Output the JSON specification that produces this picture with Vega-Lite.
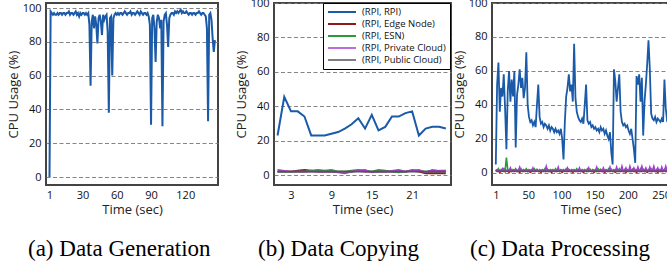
{
  "$schema": "https://vega.github.io/schema/vega-lite/v6.json",
  "padding": {"left": 6, "top": -4, "right": -23, "bottom": 0},
  "background": "white",
  "config": {
    "view": {"stroke": "#444444", "strokeWidth": 2},
    "font": "Open Sans",
    "axis": {"grid": true, "gridDash": [4, 2.5], "gridColor": "#777777", "gridWidth": 0.9, "ticks": false, "domain": false, "labelFont": "Open Sans", "labelFontSize": 11, "labelColor": "#111111", "titleFont": "Open Sans", "titleFontSize": 13, "titleFontWeight": "normal", "titleColor": "#222222", "labelOverlap": false, "labelFlush": false, "labelPadding": 4},
    "axisX": {"grid": false, "titlePadding": 3},
    "axisY": {"titlePadding": 2, "labelPadding": 5}
  },
  "datasets": {
    "gen": [
      {"t":1,"v":0},{"t":2,"v":98},{"t":3,"v":97},{"t":4,"v":96},{"t":5,"v":97},{"t":6,"v":96},{"t":7,"v":96},{"t":8,"v":97},{"t":9,"v":96},{"t":10,"v":97},
      {"t":11,"v":97},{"t":12,"v":96},{"t":13,"v":97},{"t":14,"v":97},{"t":15,"v":96},{"t":16,"v":97},{"t":17,"v":97},{"t":18,"v":98},{"t":19,"v":96},{"t":20,"v":97},
      {"t":21,"v":97},{"t":22,"v":96},{"t":23,"v":97},{"t":24,"v":98},{"t":25,"v":96},{"t":26,"v":97},{"t":27,"v":95},{"t":28,"v":97},{"t":29,"v":96},{"t":30,"v":97},
      {"t":31,"v":97},{"t":32,"v":96},{"t":33,"v":97},{"t":34,"v":96},{"t":35,"v":97},{"t":36,"v":90},{"t":37,"v":54},{"t":38,"v":92},{"t":39,"v":96},{"t":40,"v":88},
      {"t":41,"v":95},{"t":42,"v":90},{"t":43,"v":79},{"t":44,"v":94},{"t":45,"v":96},{"t":46,"v":92},{"t":47,"v":84},{"t":48,"v":96},{"t":49,"v":93},{"t":50,"v":95},
      {"t":51,"v":96},{"t":52,"v":86},{"t":53,"v":38},{"t":54,"v":94},{"t":55,"v":95},{"t":56,"v":60},{"t":57,"v":94},{"t":58,"v":96},{"t":59,"v":97},{"t":60,"v":96},
      {"t":61,"v":97},{"t":62,"v":96},{"t":63,"v":97},{"t":64,"v":97},{"t":65,"v":96},{"t":66,"v":97},{"t":67,"v":98},{"t":68,"v":97},{"t":69,"v":96},{"t":70,"v":97},
      {"t":71,"v":97},{"t":72,"v":98},{"t":73,"v":96},{"t":74,"v":97},{"t":75,"v":97},{"t":76,"v":96},{"t":77,"v":97},{"t":78,"v":98},{"t":79,"v":97},{"t":80,"v":96},
      {"t":81,"v":98},{"t":82,"v":97},{"t":83,"v":96},{"t":84,"v":97},{"t":85,"v":97},{"t":86,"v":96},{"t":87,"v":97},{"t":88,"v":95},{"t":89,"v":90},{"t":90,"v":31},
      {"t":91,"v":94},{"t":92,"v":96},{"t":93,"v":88},{"t":94,"v":68},{"t":95,"v":92},{"t":96,"v":96},{"t":97,"v":94},{"t":98,"v":88},{"t":99,"v":93},{"t":100,"v":30},
      {"t":101,"v":92},{"t":102,"v":96},{"t":103,"v":97},{"t":104,"v":90},{"t":105,"v":77},{"t":106,"v":94},{"t":107,"v":96},{"t":108,"v":97},{"t":109,"v":97},{"t":110,"v":96},
      {"t":111,"v":98},{"t":112,"v":97},{"t":113,"v":98},{"t":114,"v":97},{"t":115,"v":98},{"t":116,"v":99},{"t":117,"v":97},{"t":118,"v":98},{"t":119,"v":97},{"t":120,"v":97},
      {"t":121,"v":98},{"t":122,"v":97},{"t":123,"v":96},{"t":124,"v":97},{"t":125,"v":97},{"t":126,"v":96},{"t":127,"v":97},{"t":128,"v":97},{"t":129,"v":96},{"t":130,"v":97},
      {"t":131,"v":97},{"t":132,"v":98},{"t":133,"v":97},{"t":134,"v":96},{"t":135,"v":97},{"t":136,"v":97},{"t":137,"v":96},{"t":138,"v":95},{"t":139,"v":88},{"t":140,"v":33},
      {"t":141,"v":96},{"t":142,"v":97},{"t":143,"v":93},{"t":144,"v":82},{"t":145,"v":74},{"t":146,"v":81}
    ],
    "copy": [
      {"t":1,"rpi":23,"edge":2,"esn":2,"priv":3,"pub":2},
      {"t":2,"rpi":45.5,"edge":2,"esn":2,"priv":2.5,"pub":2},
      {"t":3,"rpi":37,"edge":2,"esn":2,"priv":2,"pub":2},
      {"t":4,"rpi":37,"edge":2.5,"esn":2,"priv":2,"pub":2},
      {"t":5,"rpi":34,"edge":3,"esn":2,"priv":2,"pub":2},
      {"t":6,"rpi":23,"edge":2.5,"esn":2.5,"priv":2,"pub":2},
      {"t":7,"rpi":23,"edge":2,"esn":3,"priv":2,"pub":2},
      {"t":8,"rpi":23,"edge":2,"esn":2.5,"priv":2,"pub":2},
      {"t":9,"rpi":24,"edge":2,"esn":3,"priv":2,"pub":2},
      {"t":10,"rpi":25,"edge":2,"esn":2,"priv":1.5,"pub":2},
      {"t":11,"rpi":27,"edge":2,"esn":2,"priv":1,"pub":2},
      {"t":12,"rpi":29.5,"edge":2,"esn":2.5,"priv":2,"pub":2},
      {"t":13,"rpi":33,"edge":2.5,"esn":3,"priv":2.5,"pub":2},
      {"t":14,"rpi":27,"edge":2,"esn":2.5,"priv":3,"pub":2},
      {"t":15,"rpi":35,"edge":2,"esn":2,"priv":1.5,"pub":2},
      {"t":16,"rpi":26,"edge":2,"esn":3,"priv":2,"pub":2},
      {"t":17,"rpi":28,"edge":2,"esn":2.5,"priv":2,"pub":2},
      {"t":18,"rpi":34,"edge":2,"esn":2,"priv":2.5,"pub":2},
      {"t":19,"rpi":34,"edge":2,"esn":1.5,"priv":3,"pub":2},
      {"t":20,"rpi":36,"edge":2,"esn":2,"priv":2,"pub":2},
      {"t":21,"rpi":37,"edge":2.5,"esn":3,"priv":2.5,"pub":2},
      {"t":22,"rpi":23,"edge":2,"esn":2.5,"priv":3,"pub":2},
      {"t":23,"rpi":27,"edge":1,"esn":2,"priv":1.5,"pub":2},
      {"t":24,"rpi":28,"edge":1,"esn":2.5,"priv":3,"pub":2},
      {"t":25,"rpi":28,"edge":1,"esn":2,"priv":2.5,"pub":2},
      {"t":26,"rpi":27,"edge":1,"esn":2.5,"priv":2.5,"pub":2}
    ],
    "proc": [
      {"t":1,"rpi":5,"edge":1,"esn":2,"priv":1,"pub":1},
      {"t":3,"rpi":52,"edge":1.5,"esn":1,"priv":2,"pub":1},
      {"t":5,"rpi":65,"edge":1,"esn":2.5,"priv":1,"pub":1},
      {"t":7,"rpi":36,"edge":0.5,"esn":1,"priv":1.5,"pub":1},
      {"t":9,"rpi":50,"edge":1,"esn":2,"priv":1,"pub":1},
      {"t":11,"rpi":45,"edge":2,"esn":1.5,"priv":2.5,"pub":1},
      {"t":13,"rpi":58,"edge":1,"esn":2.5,"priv":1,"pub":1},
      {"t":15,"rpi":38,"edge":1,"esn":1,"priv":1.5,"pub":1},
      {"t":17,"rpi":14,"edge":1.5,"esn":9,"priv":1,"pub":1},
      {"t":19,"rpi":48,"edge":1,"esn":2,"priv":2,"pub":1},
      {"t":21,"rpi":60,"edge":0.5,"esn":1.5,"priv":1,"pub":1},
      {"t":23,"rpi":42,"edge":1,"esn":2.5,"priv":3,"pub":1},
      {"t":25,"rpi":55,"edge":1.5,"esn":1,"priv":1,"pub":1},
      {"t":27,"rpi":45,"edge":1,"esn":2,"priv":1.5,"pub":1},
      {"t":29,"rpi":60,"edge":1,"esn":1.5,"priv":1,"pub":1},
      {"t":31,"rpi":15,"edge":2,"esn":2.5,"priv":2,"pub":1},
      {"t":33,"rpi":46,"edge":1,"esn":1,"priv":1,"pub":1},
      {"t":35,"rpi":52,"edge":1,"esn":2,"priv":1.5,"pub":1},
      {"t":37,"rpi":61,"edge":0.5,"esn":1.5,"priv":3.5,"pub":1},
      {"t":39,"rpi":50,"edge":1,"esn":2.5,"priv":1,"pub":1},
      {"t":41,"rpi":56,"edge":1.5,"esn":1,"priv":1,"pub":1},
      {"t":43,"rpi":44,"edge":1,"esn":2,"priv":1.5,"pub":1},
      {"t":45,"rpi":50,"edge":1,"esn":1.5,"priv":1,"pub":1},
      {"t":47,"rpi":71,"edge":2,"esn":2.5,"priv":1,"pub":1},
      {"t":49,"rpi":40,"edge":1,"esn":1,"priv":1.5,"pub":1},
      {"t":51,"rpi":33,"edge":1,"esn":2,"priv":1,"pub":1},
      {"t":53,"rpi":30,"edge":0.5,"esn":1.5,"priv":1.5,"pub":1},
      {"t":55,"rpi":31,"edge":1,"esn":2,"priv":1,"pub":1},
      {"t":57,"rpi":28,"edge":1.5,"esn":1,"priv":3,"pub":1},
      {"t":59,"rpi":30,"edge":1,"esn":2.5,"priv":1,"pub":1},
      {"t":61,"rpi":27,"edge":1,"esn":1.5,"priv":1,"pub":1},
      {"t":63,"rpi":40,"edge":2,"esn":2,"priv":1.5,"pub":1},
      {"t":65,"rpi":52,"edge":1,"esn":1,"priv":1,"pub":1},
      {"t":67,"rpi":33,"edge":1,"esn":2,"priv":1.5,"pub":1},
      {"t":69,"rpi":29,"edge":0.5,"esn":1.5,"priv":1,"pub":1},
      {"t":71,"rpi":30,"edge":1,"esn":2,"priv":1,"pub":1},
      {"t":73,"rpi":27,"edge":1.5,"esn":1,"priv":1.5,"pub":1},
      {"t":75,"rpi":29,"edge":1,"esn":2.5,"priv":1,"pub":1},
      {"t":77,"rpi":28,"edge":1,"esn":1.5,"priv":4,"pub":1},
      {"t":79,"rpi":26,"edge":2,"esn":2,"priv":1,"pub":1},
      {"t":81,"rpi":28,"edge":1,"esn":1,"priv":1.5,"pub":1},
      {"t":83,"rpi":25,"edge":1,"esn":2,"priv":1,"pub":1},
      {"t":85,"rpi":27,"edge":0.5,"esn":1.5,"priv":1.5,"pub":1},
      {"t":87,"rpi":26,"edge":1,"esn":2,"priv":1,"pub":1},
      {"t":89,"rpi":24,"edge":1.5,"esn":1,"priv":1,"pub":1},
      {"t":91,"rpi":26,"edge":1,"esn":2.5,"priv":1.5,"pub":1},
      {"t":93,"rpi":24,"edge":1,"esn":1.5,"priv":1,"pub":1},
      {"t":95,"rpi":25,"edge":2,"esn":2,"priv":3.5,"pub":1},
      {"t":97,"rpi":23,"edge":1,"esn":1,"priv":1,"pub":1},
      {"t":99,"rpi":26,"edge":1,"esn":2,"priv":1.5,"pub":1},
      {"t":101,"rpi":20,"edge":0.5,"esn":1.5,"priv":1,"pub":1},
      {"t":103,"rpi":8,"edge":1,"esn":2,"priv":1.5,"pub":1},
      {"t":105,"rpi":30,"edge":1.5,"esn":1,"priv":1,"pub":1},
      {"t":107,"rpi":45,"edge":1,"esn":2.5,"priv":1,"pub":1},
      {"t":109,"rpi":50,"edge":1,"esn":1.5,"priv":3,"pub":1},
      {"t":111,"rpi":58,"edge":2,"esn":2,"priv":1,"pub":1},
      {"t":113,"rpi":48,"edge":1,"esn":1,"priv":1.5,"pub":1},
      {"t":115,"rpi":52,"edge":1,"esn":2,"priv":1,"pub":1},
      {"t":117,"rpi":42,"edge":0.5,"esn":1.5,"priv":1.5,"pub":1},
      {"t":119,"rpi":76,"edge":1,"esn":2,"priv":1,"pub":1},
      {"t":121,"rpi":44,"edge":1.5,"esn":1,"priv":1,"pub":1},
      {"t":123,"rpi":36,"edge":1,"esn":2.5,"priv":1.5,"pub":1},
      {"t":125,"rpi":33,"edge":1,"esn":1.5,"priv":1,"pub":1},
      {"t":127,"rpi":31,"edge":2,"esn":2,"priv":3,"pub":1},
      {"t":129,"rpi":30,"edge":1,"esn":1,"priv":1,"pub":1},
      {"t":131,"rpi":32,"edge":1,"esn":2,"priv":1.5,"pub":1},
      {"t":133,"rpi":29,"edge":0.5,"esn":1.5,"priv":1,"pub":1},
      {"t":135,"rpi":40,"edge":1,"esn":2,"priv":1.5,"pub":1},
      {"t":137,"rpi":52,"edge":1.5,"esn":1,"priv":1,"pub":1},
      {"t":139,"rpi":31,"edge":1,"esn":2.5,"priv":1,"pub":1},
      {"t":141,"rpi":29,"edge":1,"esn":1.5,"priv":3,"pub":1},
      {"t":143,"rpi":30,"edge":2,"esn":2,"priv":1,"pub":1},
      {"t":145,"rpi":27,"edge":1,"esn":1,"priv":1,"pub":1},
      {"t":147,"rpi":28,"edge":1,"esn":2,"priv":1.5,"pub":1},
      {"t":149,"rpi":26,"edge":0.5,"esn":1.5,"priv":1,"pub":1},
      {"t":151,"rpi":27,"edge":1,"esn":2,"priv":1.5,"pub":1},
      {"t":153,"rpi":25,"edge":1.5,"esn":1,"priv":3.5,"pub":1},
      {"t":155,"rpi":26,"edge":1,"esn":2.5,"priv":1,"pub":1},
      {"t":157,"rpi":24,"edge":1,"esn":1.5,"priv":1,"pub":1},
      {"t":159,"rpi":27,"edge":2,"esn":2,"priv":1.5,"pub":1},
      {"t":161,"rpi":25,"edge":1,"esn":1,"priv":1,"pub":1},
      {"t":163,"rpi":26,"edge":1,"esn":2,"priv":3,"pub":1},
      {"t":165,"rpi":23,"edge":0.5,"esn":1.5,"priv":1,"pub":1},
      {"t":167,"rpi":25,"edge":1,"esn":2,"priv":1.5,"pub":1},
      {"t":169,"rpi":22,"edge":1.5,"esn":1,"priv":1,"pub":1},
      {"t":171,"rpi":20,"edge":1,"esn":2.5,"priv":1,"pub":1},
      {"t":173,"rpi":24,"edge":1,"esn":1.5,"priv":3.5,"pub":1},
      {"t":175,"rpi":12,"edge":2,"esn":2,"priv":1,"pub":1},
      {"t":177,"rpi":5,"edge":1,"esn":1,"priv":1,"pub":1},
      {"t":179,"rpi":61,"edge":1,"esn":2,"priv":1.5,"pub":1},
      {"t":181,"rpi":54,"edge":0.5,"esn":1.5,"priv":1,"pub":1},
      {"t":183,"rpi":42,"edge":1,"esn":2,"priv":3.5,"pub":1},
      {"t":185,"rpi":50,"edge":1.5,"esn":1,"priv":1,"pub":1},
      {"t":187,"rpi":58,"edge":1,"esn":2.5,"priv":1.5,"pub":1},
      {"t":189,"rpi":36,"edge":1,"esn":1.5,"priv":1,"pub":1},
      {"t":191,"rpi":30,"edge":2,"esn":2,"priv":4,"pub":1},
      {"t":193,"rpi":28,"edge":1,"esn":1,"priv":1,"pub":1},
      {"t":195,"rpi":29,"edge":1,"esn":2,"priv":1.5,"pub":1},
      {"t":197,"rpi":27,"edge":0.5,"esn":1.5,"priv":3,"pub":1},
      {"t":199,"rpi":28,"edge":1,"esn":2,"priv":1,"pub":1},
      {"t":201,"rpi":25,"edge":1.5,"esn":1,"priv":1,"pub":1},
      {"t":203,"rpi":23,"edge":1,"esn":2.5,"priv":4,"pub":1},
      {"t":205,"rpi":26,"edge":1,"esn":1.5,"priv":1,"pub":1},
      {"t":207,"rpi":20,"edge":2,"esn":2,"priv":1.5,"pub":1},
      {"t":209,"rpi":14,"edge":1,"esn":1,"priv":3,"pub":1},
      {"t":211,"rpi":6,"edge":1,"esn":2,"priv":1,"pub":1},
      {"t":213,"rpi":57,"edge":0.5,"esn":1.5,"priv":1,"pub":1},
      {"t":215,"rpi":52,"edge":1,"esn":2,"priv":3.5,"pub":1},
      {"t":217,"rpi":58,"edge":1.5,"esn":1,"priv":1,"pub":1},
      {"t":219,"rpi":42,"edge":1,"esn":2.5,"priv":1.5,"pub":1},
      {"t":221,"rpi":56,"edge":1,"esn":1.5,"priv":4,"pub":1},
      {"t":223,"rpi":22,"edge":2,"esn":2,"priv":1,"pub":1},
      {"t":225,"rpi":42,"edge":1,"esn":1,"priv":1.5,"pub":1},
      {"t":227,"rpi":52,"edge":1,"esn":2,"priv":3,"pub":1},
      {"t":229,"rpi":64,"edge":0.5,"esn":1.5,"priv":1,"pub":1},
      {"t":231,"rpi":78,"edge":1,"esn":2,"priv":1,"pub":1},
      {"t":233,"rpi":61,"edge":1.5,"esn":1,"priv":3.5,"pub":1},
      {"t":235,"rpi":35,"edge":1,"esn":2.5,"priv":1,"pub":1},
      {"t":237,"rpi":32,"edge":1,"esn":1.5,"priv":1.5,"pub":1},
      {"t":239,"rpi":31,"edge":2,"esn":2,"priv":4,"pub":1},
      {"t":241,"rpi":33,"edge":1,"esn":1,"priv":1,"pub":1},
      {"t":243,"rpi":30,"edge":1,"esn":2,"priv":1.5,"pub":1},
      {"t":245,"rpi":32,"edge":0.5,"esn":1.5,"priv":3,"pub":1},
      {"t":247,"rpi":31,"edge":1,"esn":2,"priv":1,"pub":1},
      {"t":249,"rpi":30,"edge":1.5,"esn":1,"priv":1,"pub":1},
      {"t":251,"rpi":32,"edge":1,"esn":2.5,"priv":3.5,"pub":1},
      {"t":253,"rpi":30,"edge":1,"esn":1.5,"priv":1,"pub":1},
      {"t":255,"rpi":55,"edge":2,"esn":2,"priv":1.5,"pub":1},
      {"t":257,"rpi":38,"edge":1,"esn":1,"priv":4,"pub":1},
      {"t":259,"rpi":31,"edge":1,"esn":2,"priv":1,"pub":1},
      {"t":261,"rpi":32,"edge":0.5,"esn":1.5,"priv":1,"pub":1},
      {"t":263,"rpi":30,"edge":1,"esn":2,"priv":3.5,"pub":1},
      {"t":265,"rpi":31,"edge":1.5,"esn":1,"priv":1,"pub":1},
      {"t":267,"rpi":33,"edge":1,"esn":2.5,"priv":1.5,"pub":1},
      {"t":269,"rpi":30,"edge":1,"esn":1.5,"priv":3,"pub":1}
    ]
  },
  "spacing": 14,
  "resolve": {"scale": {"color": "independent", "strokeWidth": "independent"}, "legend": {"color": "independent"}},
  "hconcat": [
    {
      "width": 172, "height": 182,
      "data": {"name": "gen"},
      "title": {"text": "(a) Data Generation", "orient": "bottom", "anchor": "start", "frame": "group", "dx": -18, "offset": 22, "font": "Liberation Serif", "fontSize": 23, "fontWeight": "normal", "color": "#000000"},
      "mark": {"type": "line", "color": "#1a5aa8", "strokeWidth": 2},
      "encoding": {
        "x": {"field": "t", "type": "quantitative", "scale": {"domain": [-2.06, 148.7], "nice": false, "zero": false}, "axis": {"values": [1, 30, 60, 90, 120], "title": "Time (sec)"}},
        "y": {"field": "v", "type": "quantitative", "scale": {"domain": [-4.73, 102.96], "nice": false}, "axis": {"values": [0, 20, 40, 60, 80, 100], "title": "CPU Usage (%)"}}
      }
    },
    {
      "spacing": 0,
      "resolve": {"scale": {"color": "independent", "strokeWidth": "independent"}, "legend": {"color": "independent"}},
      "hconcat": [
        {
          "width": 177, "height": 182,
          "data": {"name": "copy"},
          "transform": [{"fold": ["rpi", "edge", "esn", "priv", "pub"], "as": ["series", "v"]}],
          "title": {"text": "(b) Data Copying", "orient": "bottom", "anchor": "start", "frame": "group", "dx": -16, "offset": 22, "font": "Liberation Serif", "fontSize": 23, "fontWeight": "normal", "color": "#000000"},
          "mark": {"type": "line"},
          "encoding": {
            "x": {"field": "t", "type": "quantitative", "scale": {"domain": [0.474, 26.77], "nice": false, "zero": false}, "axis": {"values": [3, 9, 15, 21], "title": "Time (sec)"}},
            "y": {"field": "v", "type": "quantitative", "scale": {"domain": [-5.8, 100], "nice": false}, "axis": {"values": [0, 20, 40, 60, 80, 100], "title": "CPU Usage (%)"}},
            "strokeWidth": {"field": "series", "type": "nominal", "scale": {"domain": ["rpi", "edge", "esn", "priv", "pub"], "range": [2, 1.6, 1.6, 1.6, 1.6]}, "legend": null},
            "color": {"field": "series", "type": "nominal",
              "scale": {"domain": ["rpi", "edge", "esn", "priv", "pub"], "range": ["#1a5aa8", "#8b1a1a", "#2a9a3a", "#a63ad6", "#555555"]},
              "legend": {"orient": "none", "legendX": 49, "legendY": 0, "title": null, "symbolType": "stroke", "symbolSize": 784, "symbolStrokeWidth": 2, "clipHeight": 10, "rowPadding": 2, "padding": 4, "labelOffset": 5, "labelFont": "Open Sans", "labelFontSize": 9.5, "labelColor": "#111111", "strokeColor": "#000000", "fillColor": "#ffffff", "cornerRadius": 0,
                "labelExpr": "datum.label == 'rpi' ? '(RPI, RPI)' : datum.label == 'edge' ? '(RPI, Edge Node)' : datum.label == 'esn' ? '(RPI, ESN)' : datum.label == 'priv' ? '(RPI, Private Cloud)' : '(RPI, Public Cloud)'"}
            }
          }
        },
        {
          "width": 197, "height": 182,
          "data": {"name": "proc"},
          "transform": [{"fold": ["rpi", "edge", "esn", "priv", "pub"], "as": ["series", "v"]}],
          "title": {"text": "(c) Data Processing", "orient": "bottom", "anchor": "start", "frame": "group", "dx": -22, "offset": 22, "font": "Liberation Serif", "fontSize": 23, "fontWeight": "normal", "color": "#000000"},
          "mark": {"type": "line"},
          "encoding": {
            "x": {"field": "t", "type": "quantitative", "scale": {"domain": [-4.7, 292], "nice": false, "zero": false}, "axis": {"values": [1, 50, 100, 150, 200, 250], "title": "Time (sec)"}},
            "y": {"field": "v", "type": "quantitative", "scale": {"domain": [-7.06, 100], "nice": false}, "axis": {"values": [0, 20, 40, 60, 80, 100], "title": "CPU Usage (%)"}},
            "strokeWidth": {"field": "series", "type": "nominal", "scale": {"domain": ["rpi", "edge", "esn", "priv", "pub"], "range": [1.8, 1.4, 1.4, 1.4, 1.4]}, "legend": null},
            "color": {"field": "series", "type": "nominal",
              "scale": {"domain": ["rpi", "edge", "esn", "priv", "pub"], "range": ["#1a5aa8", "#8b1a1a", "#2a9a3a", "#a63ad6", "#555555"]},
              "legend": null}
          }
        }
      ]
    }
  ]
}
